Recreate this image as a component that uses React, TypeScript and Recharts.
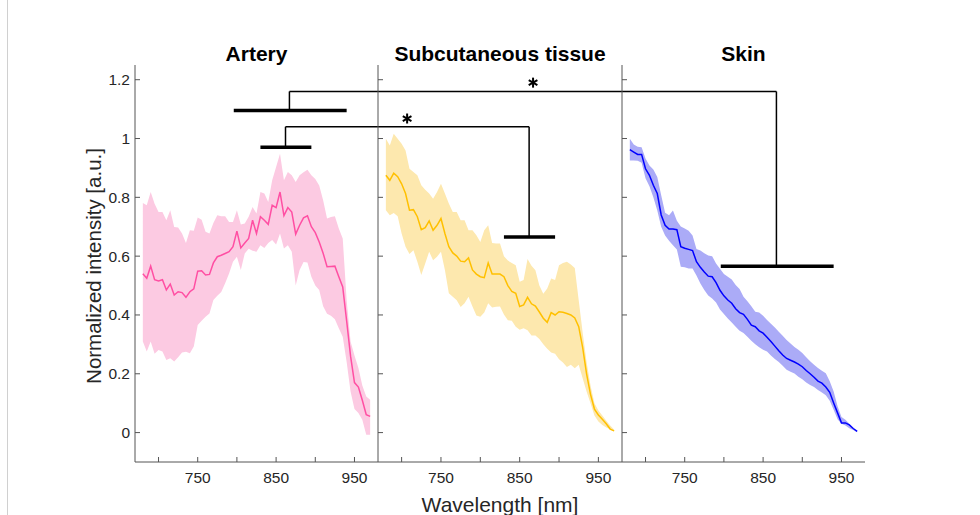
import React from "react";
import { Area, ComposedChart, Line, ReferenceDot, ReferenceLine, XAxis, YAxis } from "recharts";

// wavelength grid [nm]
const wavelengths = [
  680, 685, 690, 695, 700, 705, 710, 715, 720, 725, 730, 735, 740, 745, 750, 755, 760, 765, 770, 775,
  780, 785, 790, 795, 800, 805, 810, 815, 820, 825, 830, 835, 840, 845, 850, 855, 860, 865, 870, 875,
  880, 885, 890, 895, 900, 905, 910, 915, 920, 925, 930, 935, 940, 945, 950, 955, 960, 965, 970,
];

const arteryMean = [
  0.54, 0.525, 0.566, 0.52, 0.516, 0.52, 0.485, 0.505, 0.468, 0.479,
  0.476, 0.46, 0.479, 0.489, 0.549, 0.55, 0.536, 0.538, 0.577, 0.598,
  0.603, 0.609, 0.615, 0.632, 0.685, 0.628, 0.645, 0.66, 0.722, 0.677,
  0.734, 0.722, 0.708, 0.773, 0.765, 0.818, 0.738, 0.765, 0.75, 0.675,
  0.705, 0.73, 0.737, 0.7, 0.68, 0.648, 0.61, 0.564, 0.565, 0.566,
  0.53, 0.495, 0.38, 0.26, 0.17, 0.155, 0.11, 0.061, 0.055,
];
const arteryUpper = [
  0.781, 0.773, 0.818, 0.778, 0.75, 0.75, 0.722, 0.756, 0.699, 0.697,
  0.677, 0.645, 0.688, 0.686, 0.731, 0.724, 0.683, 0.677, 0.713, 0.739,
  0.736, 0.736, 0.716, 0.716, 0.756, 0.708, 0.711, 0.734, 0.767, 0.745,
  0.818, 0.813, 0.784, 0.858, 0.903, 0.948, 0.858, 0.886, 0.875, 0.852,
  0.875, 0.885, 0.894, 0.875, 0.862, 0.84, 0.79, 0.728, 0.733, 0.736,
  0.694, 0.66, 0.45, 0.31, 0.262, 0.22, 0.16, 0.123, 0.112,
];
const arteryLower = [
  0.31, 0.276, 0.31, 0.268, 0.281, 0.276, 0.247, 0.253, 0.242, 0.256,
  0.272, 0.275, 0.27, 0.293, 0.366, 0.38, 0.394, 0.405, 0.451, 0.465,
  0.478, 0.508, 0.541, 0.581, 0.598, 0.553, 0.609, 0.625, 0.618, 0.615,
  0.637, 0.628, 0.645, 0.655, 0.64, 0.677, 0.626, 0.637, 0.615, 0.5,
  0.553, 0.58, 0.578, 0.53, 0.5, 0.485, 0.43, 0.404, 0.397, 0.385,
  0.355, 0.326, 0.24, 0.14, 0.08, 0.067, 0.044, -0.007, -0.007,
];

const subcutMean = [
  0.875, 0.858, 0.882, 0.87, 0.846, 0.813, 0.756, 0.758, 0.734, 0.69,
  0.697, 0.72, 0.688, 0.705, 0.728, 0.677, 0.632, 0.611, 0.6, 0.583,
  0.581, 0.594, 0.553, 0.539, 0.53, 0.527, 0.577, 0.539, 0.539, 0.539,
  0.53, 0.5, 0.48, 0.474, 0.429, 0.434, 0.46, 0.438, 0.43, 0.41,
  0.389, 0.375, 0.408, 0.4, 0.411, 0.409, 0.405, 0.4, 0.39, 0.36,
  0.29, 0.2, 0.13, 0.08, 0.06, 0.045, 0.03, 0.012, 0.006,
];
const subcutUpper = [
  0.999, 0.976, 1.016, 0.999, 0.982, 0.959, 0.897, 0.886, 0.875, 0.841,
  0.826, 0.813, 0.795, 0.818, 0.846, 0.813, 0.779, 0.75, 0.75, 0.722,
  0.722, 0.688, 0.688, 0.671, 0.648, 0.688, 0.705, 0.645, 0.643, 0.643,
  0.6, 0.585, 0.577, 0.569, 0.513, 0.519, 0.59, 0.567, 0.552, 0.5,
  0.472, 0.49, 0.524, 0.519, 0.569, 0.577, 0.581, 0.572, 0.56, 0.45,
  0.34, 0.24, 0.16, 0.1, 0.075, 0.058, 0.04, 0.024, 0.01,
];
const subcutLower = [
  0.756, 0.739, 0.747, 0.736, 0.677, 0.632, 0.607, 0.62, 0.581, 0.536,
  0.575, 0.615, 0.586, 0.598, 0.615, 0.553, 0.474, 0.462, 0.45, 0.427,
  0.44, 0.462, 0.429, 0.398, 0.394, 0.408, 0.44, 0.425, 0.428, 0.429,
  0.402, 0.382, 0.38, 0.36, 0.35, 0.355, 0.348, 0.33, 0.33, 0.318,
  0.3, 0.285, 0.272, 0.268, 0.249, 0.238, 0.223, 0.231, 0.219, 0.231,
  0.185, 0.14, 0.1, 0.058, 0.038, 0.026, 0.017, 0.011, 0.004,
];

const skinMean = [
  0.962, 0.954, 0.946, 0.946, 0.897, 0.875, 0.841, 0.813, 0.74, 0.705,
  0.692, 0.692, 0.69, 0.632, 0.627, 0.623, 0.619, 0.581, 0.562, 0.546,
  0.532, 0.53, 0.51, 0.484, 0.465, 0.451, 0.44, 0.421, 0.408, 0.402,
  0.385, 0.365, 0.36, 0.346, 0.338, 0.324, 0.31, 0.294, 0.278, 0.264,
  0.252, 0.246, 0.24, 0.233, 0.224, 0.211, 0.2, 0.188, 0.175, 0.168,
  0.155, 0.137, 0.101, 0.067, 0.033, 0.033, 0.026, 0.014, 0.004,
];
const skinUpper = [
  0.999, 0.98, 0.972, 0.97, 0.932, 0.908, 0.895, 0.869, 0.807, 0.748,
  0.739, 0.755, 0.72, 0.701, 0.694, 0.686, 0.67, 0.624, 0.619, 0.61,
  0.602, 0.6, 0.575, 0.557, 0.539, 0.53, 0.521, 0.502, 0.488, 0.462,
  0.447, 0.43, 0.411, 0.408, 0.397, 0.383, 0.37, 0.357, 0.343, 0.329,
  0.315, 0.303, 0.291, 0.282, 0.271, 0.256, 0.243, 0.231, 0.22, 0.21,
  0.202, 0.175, 0.14, 0.09, 0.053, 0.044, 0.03, 0.015, 0.004,
];
const skinLower = [
  0.925, 0.925, 0.924, 0.918, 0.865, 0.838, 0.8, 0.755, 0.7, 0.67,
  0.652, 0.637, 0.623, 0.564, 0.562, 0.558, 0.558, 0.534, 0.507, 0.485,
  0.466, 0.456, 0.442, 0.419, 0.403, 0.388, 0.374, 0.36, 0.346, 0.339,
  0.326, 0.312, 0.3, 0.29, 0.282, 0.276, 0.262, 0.25, 0.24, 0.227,
  0.214, 0.207, 0.201, 0.19, 0.181, 0.17, 0.162, 0.155, 0.145, 0.136,
  0.127, 0.108, 0.078, 0.045, 0.03, 0.024, 0.015, 0.009, 0.001,
];

const xDomain = [670, 980];
const yDomain = [-0.1, 1.25];
const xTicks = [700, 750, 800, 850, 900, 950];
const xTickLabels = [750, 850, 950];
const yTicks = [0, 0.2, 0.4, 0.6, 0.8, 1, 1.2];
const titles = ["Artery", "Subcutaneous tissue", "Skin"];

// significance brackets (wavelength / intensity units)
const arterySkinBar = { from: 796, to: 940, center: 867 };
const arterySkinLevels = { artery: 1.095, top: 1.16, skin: 0.566 };
const arterySubcutBar = { from: 830, to: 895, center: 862 };
const arterySubcutLevels = { artery: 0.97, top: 1.04, subcut: 0.665 };
const stars = [
  { wl: 867, level: 1.19 },
  { wl: 707, level: 1.068 },
];

const FONT = "'Liberation Sans', Arial, Helvetica, sans-serif";
const AXIS = "#555";
const TEXT = "#262626";
const PLOT_TOP = 65;
const PLOT_H = 397;
const PAD_L = 60;
const PAD_R = 10;
const PAD_T = 10;
const PAD_B = 40;

const rows = (mean: number[], lo: number[], hi: number[]) =>
  wavelengths.map((wl, i) => ({ wl, mean: mean[i], band: [lo[i], hi[i]] }));

const YTick = (props: any) => {
  const { x, y, payload, showLabel } = props;
  const v = payload.value;
  return (
    <g>
      <line x1={x} x2={x + 5} y1={y} y2={y} stroke={AXIS} strokeWidth={1} />
      {showLabel && (
        <text x={x - 5} y={y} dy={5.5} textAnchor="end" style={{ fontSize: 15.5, fontFamily: FONT }} fill={TEXT}>
          {Number.isInteger(v) ? String(v) : v.toFixed(1)}
        </text>
      )}
    </g>
  );
};

const XTick = (props: any) => {
  const { x, y, payload } = props;
  return (
    <g>
      <line x1={x} x2={x} y1={y} y2={y - 5} stroke={AXIS} strokeWidth={1} />
      {xTickLabels.includes(payload.value) && (
        <text x={x} y={y} dy={21} textAnchor="middle" style={{ fontSize: 15.5, fontFamily: FONT }} fill={TEXT}>
          {payload.value}
        </text>
      )}
    </g>
  );
};

const Asterisk = (props: any) => {
  const { cx, cy } = props;
  const r = 5;
  const arms = [90, 30, -30];
  return (
    <g>
      {arms.map((a) => {
        const dx = r * Math.cos((a * Math.PI) / 180);
        const dy = r * Math.sin((a * Math.PI) / 180);
        return <line key={a} x1={cx - dx} y1={cy - dy} x2={cx + dx} y2={cy + dy} stroke="#000" strokeWidth={2} />;
      })}
    </g>
  );
};

type PanelProps = {
  left: number;
  width: number;
  data: ReturnType<typeof rows>;
  line: string;
  fill: string;
  showLabels?: boolean;
  children?: React.ReactNode;
};

function Panel({ left, width, data, line, fill, showLabels, children }: PanelProps) {
  return (
    <div style={{ position: "absolute", left: left - PAD_L, top: PLOT_TOP - PAD_T }}>
      <ComposedChart
        width={PAD_L + width + PAD_R}
        height={PAD_T + PLOT_H + PAD_B}
        data={data}
        margin={{ top: PAD_T, right: PAD_R, bottom: 0, left: 0 }}
      >
        <XAxis
          dataKey="wl"
          type="number"
          domain={xDomain}
          ticks={xTicks}
          height={PAD_B}
          allowDataOverflow
          axisLine={{ stroke: AXIS }}
          tickLine={false}
          tickSize={0}
          tickMargin={0}
          tick={<XTick />}
          interval={0}
        />
        <YAxis
          type="number"
          domain={yDomain}
          ticks={yTicks}
          width={PAD_L}
          allowDataOverflow
          axisLine={{ stroke: AXIS }}
          tickLine={false}
          tickSize={0}
          tickMargin={0}
          tick={<YTick showLabel={showLabels} />}
          interval={0}
        />
        <Area
          type="linear"
          dataKey="band"
          stroke="none"
          fill={fill}
          fillOpacity={1}
          isAnimationActive={false}
        />
        <Line
          type="linear"
          dataKey="mean"
          stroke={line}
          strokeWidth={1.5}
          dot={false}
          isAnimationActive={false}
        />
        {children}
      </ComposedChart>
    </div>
  );
}

export default function App() {
  const lefts = [135, 378, 622];
  const rights = [378, 622, 865];
  const thick = { stroke: "#000", strokeWidth: 3.5 };
  const thin = { stroke: "#000", strokeWidth: 1.5 };
  return (
    <div
      style={{
        position: "absolute",
        left: 0,
        top: 0,
        width: 980,
        height: 515,
        background: "#fff",
        overflow: "hidden",
        fontFamily: FONT,
      }}
    >
      <div style={{ position: "absolute", left: 7, top: 0, width: 1, height: 515, background: "#d0d0d0" }} />

      <Panel
        left={lefts[0]}
        width={rights[0] - lefts[0]}
        data={rows(arteryMean, arteryLower, arteryUpper)}
        line="#FF4FA3"
        fill="#FCCAE2"
        showLabels
      >
        <ReferenceLine
          segment={[{ x: arterySkinBar.from, y: arterySkinLevels.artery }, { x: arterySkinBar.to, y: arterySkinLevels.artery }]}
          {...thick}
        />
        <ReferenceLine
          segment={[{ x: arterySkinBar.center, y: arterySkinLevels.artery }, { x: arterySkinBar.center, y: arterySkinLevels.top }]}
          {...thin}
        />
        <ReferenceLine
          segment={[{ x: arterySkinBar.center, y: arterySkinLevels.top }, { x: xDomain[1], y: arterySkinLevels.top }]}
          {...thin}
        />
        <ReferenceLine
          segment={[{ x: arterySubcutBar.from, y: arterySubcutLevels.artery }, { x: arterySubcutBar.to, y: arterySubcutLevels.artery }]}
          {...thick}
        />
        <ReferenceLine
          segment={[{ x: arterySubcutBar.center, y: arterySubcutLevels.artery }, { x: arterySubcutBar.center, y: arterySubcutLevels.top }]}
          {...thin}
        />
        <ReferenceLine
          segment={[{ x: arterySubcutBar.center, y: arterySubcutLevels.top }, { x: xDomain[1], y: arterySubcutLevels.top }]}
          {...thin}
        />
      </Panel>

      <Panel
        left={lefts[1]}
        width={rights[1] - lefts[1]}
        data={rows(subcutMean, subcutLower, subcutUpper)}
        line="#FFC000"
        fill="#FDE8AE"
      >
        <ReferenceLine
          segment={[{ x: xDomain[0], y: arterySkinLevels.top }, { x: xDomain[1], y: arterySkinLevels.top }]}
          {...thin}
        />
        <ReferenceLine
          segment={[{ x: xDomain[0], y: arterySubcutLevels.top }, { x: arterySubcutBar.center, y: arterySubcutLevels.top }]}
          {...thin}
        />
        <ReferenceLine
          segment={[{ x: arterySubcutBar.center, y: arterySubcutLevels.top }, { x: arterySubcutBar.center, y: arterySubcutLevels.subcut }]}
          {...thin}
        />
        <ReferenceLine
          segment={[{ x: arterySubcutBar.from, y: arterySubcutLevels.subcut }, { x: arterySubcutBar.to, y: arterySubcutLevels.subcut }]}
          {...thick}
        />
        {stars.map((s) => (
          <ReferenceDot key={s.wl} x={s.wl} y={s.level} r={4} shape={<Asterisk />} />
        ))}
      </Panel>

      <Panel
        left={lefts[2]}
        width={rights[2] - lefts[2]}
        data={rows(skinMean, skinLower, skinUpper)}
        line="#0000FF"
        fill="#ABABF7"
      >
        <ReferenceLine
          segment={[{ x: xDomain[0], y: arterySkinLevels.top }, { x: arterySkinBar.center, y: arterySkinLevels.top }]}
          {...thin}
        />
        <ReferenceLine
          segment={[{ x: arterySkinBar.center, y: arterySkinLevels.top }, { x: arterySkinBar.center, y: arterySkinLevels.skin }]}
          {...thin}
        />
        <ReferenceLine
          segment={[{ x: arterySkinBar.from, y: arterySkinLevels.skin }, { x: arterySkinBar.to, y: arterySkinLevels.skin }]}
          {...thick}
        />
      </Panel>

      <svg width={980} height={515} style={{ position: "absolute", left: 0, top: 0, pointerEvents: "none" }}>
        {titles.map((t, i) => (
          <text
            key={t}
            x={(lefts[i] + rights[i]) / 2}
            y={61}
            textAnchor="middle"
            fontSize={21}
            fontWeight="bold"
            fill="#000"
            fontFamily={FONT}
          >
            {t}
          </text>
        ))}
        <text
          transform="translate(101,266) rotate(-90)"
          textAnchor="middle"
          fontSize={20.5}
          fill={TEXT}
          fontFamily={FONT}
        >
          Normalized intensity [a.u.]
        </text>
        <text x={500} y={512} textAnchor="middle" fontSize={21} fill={TEXT} fontFamily={FONT}>
          Wavelength [nm]
        </text>
      </svg>
    </div>
  );
}
